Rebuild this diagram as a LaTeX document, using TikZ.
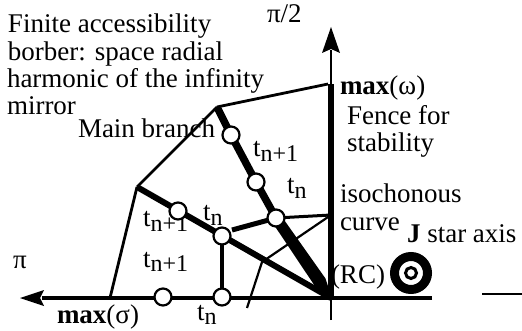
\documentclass[tikz,border=0pt]{standalone}
\usepackage{fontspec}
\setmainfont{Liberation Serif}
\usetikzlibrary{calc}
\newcommand{\tsb}[1]{t\raisebox{-4.5pt}{\fontsize{24}{24}\selectfont #1}}
\tikzset{
  lbl/.style={anchor=base west, inner sep=0pt, outer sep=0pt, font=\fontsize{27}{28}\selectfont},
  knot/.style={circle, draw, line width=2.2pt, fill=white, minimum size=17pt, inner sep=0pt},
  fine/.style={line width=2.8pt},
  heavy/.style={line width=7.5pt},
  midline/.style={line width=4pt},
  axisline/.style={line width=3.2pt},
  hair/.style={line width=1.8pt},
}
\begin{document}
\begin{tikzpicture}[x=1pt,y=-1pt]
\useasboundingbox (0,0) rectangle (522,331);

% ---- texts ----
\node[lbl] (t1) at (8,33) {Finite accessibility};
\node[lbl] (t2) at (8,61) {borber: space radial};
\node[lbl] (t3) at (7,88) {harmonic of the infinity};
\node[lbl] (t4) at (7,115) {mirror};
\node[lbl] (mb) at (78,138) {Main branch};
\node[lbl] (pi2) at (267,23) {π/2};
\node[lbl] (pi) at (13,268) {π};
\node[lbl] (ms) at (57,323) {\textbf{max}(σ)};
\node[lbl] (mw) at (340,95) {\textbf{max}(ω)};
\node[lbl] (fe) at (347,125) {Fence for};
\node[lbl] (st) at (347,152) {stability};
\node[lbl] (is) at (340,203) {isochonous};
\node[lbl] (cu) at (340,230) {curve};
\node[lbl] (ja) at (407,243) {\textbf{J} star axis};
\node[lbl] (rc) at (331,283) {(RC)};
\node[lbl] (l1) at (253,157) {\tsb{n+1}};
\node[lbl] (l2) at (287,194) {\tsb{n}};
\node[lbl] (l3) at (203,221) {\tsb{n}};
\node[lbl] (l4) at (143,227) {\tsb{n+1}};
\node[lbl] (l5) at (143,267) {\tsb{n+1}};
\node[lbl] (l6) at (197,320) {\tsb{n}};

% ---- key points ----
\coordinate (O) at (331,298);
\coordinate (W) at (331,84);
\coordinate (Yb) at (331,50);
\coordinate (Ytip) at (331,27);
\coordinate (Ybot) at (331,320);
\coordinate (Xend) at (432,298);
\coordinate (Xb) at (42,298);
\coordinate (Xtip) at (20,298);
\coordinate (A) at (217,107);
\coordinate (B) at (137,187);
\coordinate (S) at (110,298);
\coordinate (F) at (232,230);
\coordinate (Q) at (331,215);
\coordinate (R) at (262,262);
\coordinate (T) at (247,308);
\coordinate (dashL) at (482,294);
\coordinate (dashR) at (522,294);
\coordinate (star) at (411,273);

% ---- axes ----
\draw[axisline] (Xend) -- (Xb);
\fill (Xtip) -- (44,290) -- (40,298) -- (44,306) -- cycle;
\draw[hair] (Ybot) -- (O);
\draw[line width=6.5pt] (O) -- (W);
\draw[hair] (W) -- (Yb);
\fill (Ytip) -- (322,53) -- (331,49) -- (340,53) -- cycle;

% ---- thin frame lines ----
\draw[fine] (A) -- ($(W)+(-3,0)$);
\draw[fine] (A) -- (B);
\draw[fine] (B) -- (S);

% ---- knots (positions) ----
\coordinate (c1p) at (231,135);
\coordinate (c2p) at (256,182);
\coordinate (c3p) at (276,218);
\coordinate (d1p) at (178,211);
\coordinate (d2p) at (222,236);

% main branch
\draw[heavy, line join=round] (A) -- (c1p) -- (c2p) -- (c3p);
\coordinate (m) at ($(c3p)!0.8!(O)$);
\fill ($(c3p)!5.5pt!90:(O)$) -- ($(m)!6.5pt!90:(O)$) -- ($(O)!1pt!-90:(c3p)$)
      -- ($(O)!1pt!90:(c3p)$) -- ($(m)!6.5pt!-90:(O)$) -- ($(c3p)!5.5pt!-90:(O)$) -- cycle;

% second branch
\draw[line width=6pt] (B) -- (O);
\draw[midline] (d2p) -- (222,297);
\draw[line width=5pt] (F) -- (c3p);
\draw[line width=3pt] (c3p) -- (Q);
% isochronous curve
\draw[line width=2.2pt] (Q) -- (R) -- (T);

% knots
\node[knot] (c1) at (c1p) {};
\node[knot] (c2) at (c2p) {};
\node[knot] (c3) at (c3p) {};
\node[knot] (d1) at (d1p) {};
\node[knot] (d2) at (d2p) {};
\node[knot] (e1) at (163,297) {};
\node[knot] (e2) at (222,297) {};

% bullseye
\draw[line width=9pt] (star) circle (16.5);
\draw[line width=3pt] (star) circle (5.5);

% dash
\draw[hair] (dashL) -- (dashR);
\end{tikzpicture}
\end{document}
